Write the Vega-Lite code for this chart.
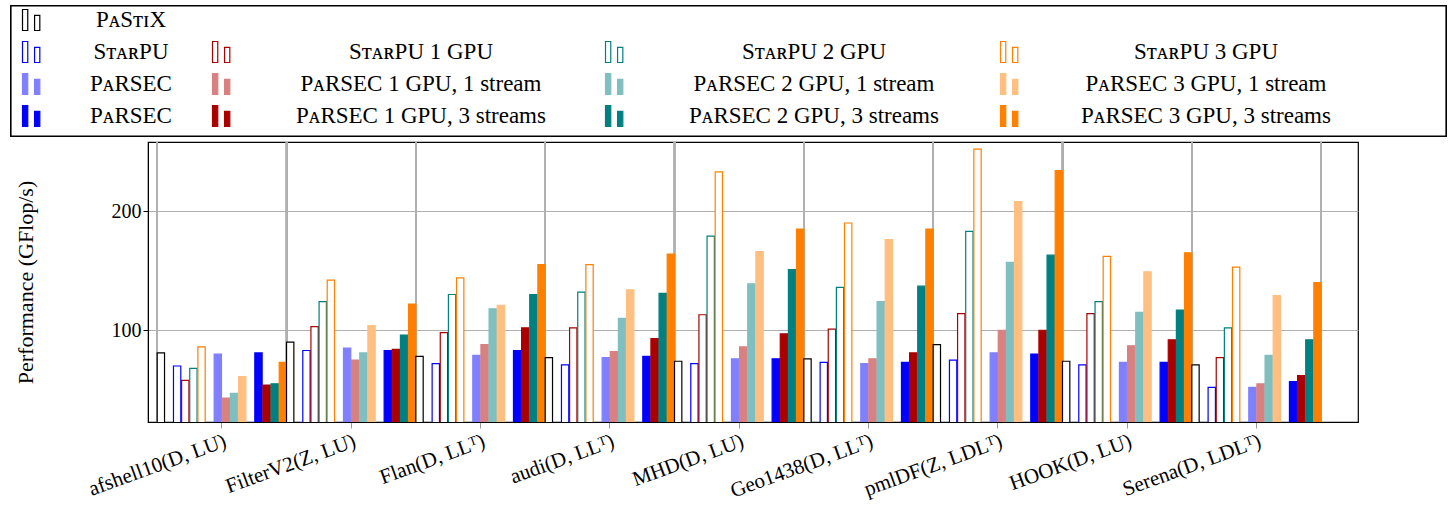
{
  "$schema": "https://vega.github.io/schema/vega-lite/v6.json",
  "padding": {"left": 10, "top": 5, "right": 3, "bottom": 5},
  "spacing": 3,
  "config": {"font": "Liberation Serif", "view": {"stroke": "black", "strokeWidth": 1.2}},
  "datasets": {
    "series": [
      {"id": "pastix", "label": "PᴀSᴛɪX", "col": 0, "row": 0},
      {"id": "starpu", "label": "SᴛᴀʀPU", "col": 0, "row": 1},
      {"id": "starpu1", "label": "SᴛᴀʀPU 1 GPU", "col": 1, "row": 1},
      {"id": "starpu2", "label": "SᴛᴀʀPU 2 GPU", "col": 2, "row": 1},
      {"id": "starpu3", "label": "SᴛᴀʀPU 3 GPU", "col": 3, "row": 1},
      {"id": "parsec", "label": "PᴀRSEC", "col": 0, "row": 2},
      {"id": "p1s1", "label": "PᴀRSEC 1 GPU, 1 stream", "col": 1, "row": 2},
      {"id": "p2s1", "label": "PᴀRSEC 2 GPU, 1 stream", "col": 2, "row": 2},
      {"id": "p3s1", "label": "PᴀRSEC 3 GPU, 1 stream", "col": 3, "row": 2},
      {"id": "parsecd", "label": "PᴀRSEC", "col": 0, "row": 3},
      {"id": "p1s3", "label": "PᴀRSEC 1 GPU, 3 streams", "col": 1, "row": 3},
      {"id": "p2s3", "label": "PᴀRSEC 2 GPU, 3 streams", "col": 2, "row": 3},
      {"id": "p3s3", "label": "PᴀRSEC 3 GPU, 3 streams", "col": 3, "row": 3}
    ],
    "perf": [
      {"m": "afshell10(D, LU)", "pastix": 81, "starpu": 70, "starpu1": 58, "starpu2": 68, "starpu3": 86, "parsec": 80, "p1s1": 43, "p2s1": 47, "p3s1": 61, "parsecd": 81, "p1s3": 54, "p2s3": 55, "p3s3": 73},
      {"m": "FilterV2(Z, LU)", "pastix": 90, "starpu": 83, "starpu1": 103, "starpu2": 124, "starpu3": 142, "parsec": 85, "p1s1": 75, "p2s1": 81, "p3s1": 104, "parsecd": 83, "p1s3": 84, "p2s3": 96, "p3s3": 122},
      {"m": "Flan(D, LLᵀ)", "pastix": 78, "starpu": 72, "starpu1": 98, "starpu2": 130, "starpu3": 144, "parsec": 79, "p1s1": 88, "p2s1": 118, "p3s1": 121, "parsecd": 83, "p1s3": 102, "p2s3": 130, "p3s3": 155},
      {"m": "audi(D, LLᵀ)", "pastix": 77, "starpu": 71, "starpu1": 102, "starpu2": 132, "starpu3": 155, "parsec": 77, "p1s1": 82, "p2s1": 110, "p3s1": 134, "parsecd": 78, "p1s3": 93, "p2s3": 131, "p3s3": 164},
      {"m": "MHD(D, LU)", "pastix": 74, "starpu": 72, "starpu1": 113, "starpu2": 179, "starpu3": 233, "parsec": 76, "p1s1": 86, "p2s1": 139, "p3s1": 166, "parsecd": 76, "p1s3": 97, "p2s3": 151, "p3s3": 185},
      {"m": "Geo1438(D, LLᵀ)", "pastix": 76, "starpu": 73, "starpu1": 101, "starpu2": 136, "starpu3": 190, "parsec": 72, "p1s1": 76, "p2s1": 124, "p3s1": 176, "parsecd": 73, "p1s3": 81, "p2s3": 137, "p3s3": 185},
      {"m": "pmlDF(Z, LDLᵀ)", "pastix": 88, "starpu": 75, "starpu1": 114, "starpu2": 183, "starpu3": 252, "parsec": 81, "p1s1": 100, "p2s1": 157, "p3s1": 208, "parsecd": 80, "p1s3": 100, "p2s3": 163, "p3s3": 234},
      {"m": "HOOK(D, LU)", "pastix": 74, "starpu": 71, "starpu1": 114, "starpu2": 124, "starpu3": 162, "parsec": 73, "p1s1": 87, "p2s1": 115, "p3s1": 149, "parsecd": 73, "p1s3": 92, "p2s3": 117, "p3s3": 165},
      {"m": "Serena(D, LDLᵀ)", "pastix": 71, "starpu": 52, "starpu1": 77, "starpu2": 102, "starpu3": 153, "parsec": 52, "p1s1": 55, "p2s1": 79, "p3s1": 129, "parsecd": 57, "p1s3": 62, "p2s3": 92, "p3s3": 140}
    ]
  },
  "vconcat": [
    {
      "width": 1298,
      "height": 130,
      "view": {"stroke": null},
      "data": {"name": "series"},
      "layer": [
        {
          "mark": {"type": "rect", "fill": "white", "stroke": "black", "strokeWidth": 1.2, "clip": false},
          "encoding": {"x": {"value": -137}, "x2": {"value": 1298}, "y": {"value": 0}, "y2": {"value": 130}}
        },
        {
          "mark": {"type": "point", "shape": "M-1,-1H-0.5V1H-1Z M0.15,-0.45H0.65V1H0.15Z", "size": 440, "strokeWidth": 1.2, "filled": true, "opacity": 1},
          "encoding": {
            "x": {"field": "col", "type": "quantitative", "scale": {"domain": [0, 1, 2, 3], "range": [-115, 75, 468, 863]}, "axis": null},
            "y": {"field": "row", "type": "quantitative", "scale": {"domain": [0, 3], "range": [14, 110]}, "axis": null},
            "fill": {"field": "id", "type": "nominal", "legend": null},
            "stroke": {"field": "id", "type": "nominal", "legend": null}
          }
        },
        {
          "mark": {"type": "text", "fontSize": 23, "align": "center", "baseline": "middle", "color": "black"},
          "encoding": {
            "x": {"field": "col", "type": "quantitative", "scale": {"domain": [0, 1, 2, 3], "range": [-17, 273, 666, 1058]}, "axis": null},
            "y": {"field": "row", "type": "quantitative", "scale": {"domain": [0, 3], "range": [14, 110]}, "axis": null},
            "text": {"field": "label"}
          }
        }
      ],
      "resolve": {"scale": {"x": "independent"}}
    },
    {
      "width": 1210,
      "height": 280,
      "data": {"name": "perf"},
      "transform": [
        {"fold": ["pastix", "starpu", "starpu1", "starpu2", "starpu3", "parsec", "p1s1", "p2s1", "p3s1", "parsecd", "p1s3", "p2s3", "p3s3"], "as": ["id", "v"]}
      ],
      "encoding": {
        "x": {
          "field": "m", "type": "nominal", "sort": null, "title": null,
          "scale": {"paddingInner": 0, "paddingOuter": 0.178, "align": 0.2},
          "axis": {"labelAngle": -20, "labelAlign": "right", "labelBaseline": "top", "labelFontSize": 21, "labelColor": "black", "labelPadding": 2, "tickColor": "#999", "tickSize": 6, "domainColor": "black", "grid": false, "labelLimit": 400}
        }
      },
      "layer": [
        {
          "mark": {"type": "rule", "color": "#b0b0b0", "strokeWidth": 1.2},
          "encoding": {"x": {"field": "m", "type": "nominal", "sort": null, "bandPosition": 0}}
        },
        {
          "mark": {"type": "rule", "color": "#b0b0b0", "strokeWidth": 1.2},
          "encoding": {"x": {"field": "m", "type": "nominal", "sort": null, "bandPosition": 1}}
        },
        {
          "mark": {"type": "bar", "strokeWidth": 1.2, "clip": true},
          "encoding": {
            "xOffset": {"field": "id", "type": "nominal", "scale": {"domain": ["pastix", "g1", "starpu", "starpu1", "starpu2", "starpu3", "g2", "parsec", "p1s1", "p2s1", "p3s1", "g3", "parsecd", "p1s3", "p2s3", "p3s3"], "paddingInner": 0.1, "paddingOuter": 0}},
            "y": {
              "field": "v", "type": "quantitative",
              "title": "Performance (GFlop/s)",
              "scale": {"domain": [23, 258], "nice": false, "zero": false},
              "axis": {"values": [100, 200], "grid": true, "gridColor": "#b0b0b0", "gridWidth": 1.2, "labelFontSize": 20, "labelColor": "black", "titleFontSize": 22, "titleFontWeight": "normal", "titleColor": "black", "titlePadding": 74, "tickColor": "black", "domainColor": "black"}
            },
            "fill": {
              "field": "id", "type": "nominal", "legend": null,
              "scale": {"domain": ["pastix", "starpu", "starpu1", "starpu2", "starpu3", "parsec", "p1s1", "p2s1", "p3s1", "parsecd", "p1s3", "p2s3", "p3s3"],
                        "range": ["white", "white", "white", "white", "white", "#8080ff", "#d98080", "#80bfbf", "#ffbf80", "#0000ff", "#aa0000", "#008080", "#ff8000"]}
            },
            "stroke": {
              "field": "id", "type": "nominal", "legend": null,
              "scale": {"domain": ["pastix", "starpu", "starpu1", "starpu2", "starpu3", "parsec", "p1s1", "p2s1", "p3s1", "parsecd", "p1s3", "p2s3", "p3s3"],
                        "range": ["black", "#0000ff", "#aa0000", "#008080", "#ff8000", "#8080ff", "#d98080", "#80bfbf", "#ffbf80", "#0000ff", "#aa0000", "#008080", "#ff8000"]}
            }
          }
        }
      ]
    }
  ],
  "resolve": {"scale": {"fill": "shared", "stroke": "shared"}}
}
